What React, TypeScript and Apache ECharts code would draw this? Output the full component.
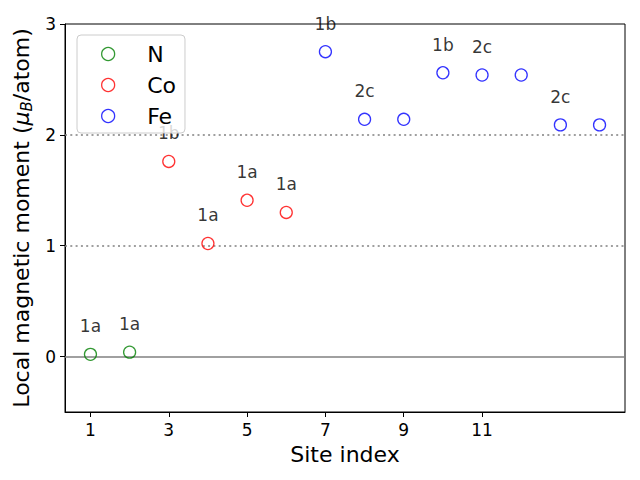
import React, { useEffect, useRef } from "react";
import * as echarts from "echarts";

const nSites = [1, 2];
const nMoments = [0.02, 0.04];
const nLabels = ["1a", "1a"];
const coSites = [3, 4, 5, 6];
const coMoments = [1.76, 1.02, 1.41, 1.3];
const coLabels = ["1b", "1a", "1a", "1a"];
const feSites = [7, 8, 9, 10, 11, 12, 13, 14];
const feMoments = [2.75, 2.14, 2.14, 2.56, 2.54, 2.54, 2.09, 2.09];
const feLabels = ["1b", "2c", "", "1b", "2c", "", "2c", ""];
const xTicks = [1, 3, 5, 7, 9, 11];
const yTicks = [0, 1, 2, 3];
const refLines = [0, 1, 2];

const FONT = "DejaVu Sans";

function makeSeries(name: string, color: string, xs: number[], ys: number[], labels: string[], extra: any = {}) {
  return {
    name,
    type: "scatter",
    symbol: "circle",
    symbolSize: 12,
    z: 5,
    itemStyle: { color: "rgba(255,255,255,0)", borderColor: color, borderWidth: 1.3 },
    label: {
      show: true,
      position: "top",
      distance: 13,
      fontFamily: FONT,
      fontSize: 17,
      color: "#000",
      formatter: (p: any) => labels[p.dataIndex],
    },
    emphasis: { disabled: true },
    data: xs.map((x, i) => [x, ys[i]]),
    ...extra,
  };
}

export default function App() {
  const ref = useRef<HTMLDivElement>(null);
  useEffect(() => {
    if (!ref.current) return;
    const chart = echarts.init(ref.current, null, { renderer: "svg" });
    chart.setOption({
      animation: false,
      grid: {
        left: 65,
        right: 15,
        top: 24,
        bottom: 68,
        show: true,
        borderColor: "#000",
        borderWidth: 1,
        backgroundColor: "transparent",
      },
      legend: {
        left: 77,
        top: 35,
        orient: "vertical",
        backgroundColor: "rgba(255,255,255,0.8)",
        borderColor: "#cccccc",
        borderWidth: 1,
        borderRadius: 4,
        padding: [8, 9, 6, 24],
        itemGap: 9,
        itemWidth: 22,
        itemHeight: 13,
        z: 20,
        textStyle: { fontFamily: FONT, fontSize: 22, color: "#000", padding: [0, 0, 0, 23] },
        data: [
          { name: "N", icon: "circle", itemStyle: { color: "rgba(255,255,255,0)", borderColor: "green", borderWidth: 1.3 } },
          { name: "Co", icon: "circle", itemStyle: { color: "rgba(255,255,255,0)", borderColor: "red", borderWidth: 1.3 } },
          { name: "Fe", icon: "circle", itemStyle: { color: "rgba(255,255,255,0)", borderColor: "blue", borderWidth: 1.3 } },
        ],
      },
      xAxis: {
        type: "value",
        min: 0.35,
        max: 14.65,
        name: "Site index",
        nameLocation: "middle",
        nameGap: 31,
        nameTextStyle: { fontFamily: FONT, fontSize: 22, color: "#000" },
        axisLine: { show: true, onZero: false, lineStyle: { color: "#000", width: 1 } },
        axisTick: { show: true, length: 5, customValues: xTicks, lineStyle: { color: "#000" } },
        axisLabel: { customValues: xTicks, margin: 9, fontFamily: FONT, fontSize: 17, color: "#000" },
        splitLine: { show: false },
      },
      yAxis: {
        type: "value",
        min: -0.5,
        max: 3,
        name: "Local magnetic moment ({mu|μ}{sub|B}/atom)",
        nameLocation: "middle",
        nameGap: 24,
        nameTextStyle: {
          fontFamily: FONT,
          fontSize: 22,
          color: "#000",
          rich: {
            mu: { fontFamily: FONT, fontSize: 22, fontStyle: "italic", color: "#000" },
            sub: { fontFamily: FONT, fontSize: 15, fontStyle: "italic", color: "#000", padding: [10, 0, 0, 0] },
          },
        },
        axisLine: { show: true, onZero: false, lineStyle: { color: "#000", width: 1 } },
        axisTick: { show: true, length: 5, customValues: yTicks, lineStyle: { color: "#000" } },
        axisLabel: { customValues: yTicks, margin: 9, fontFamily: FONT, fontSize: 17, color: "#000" },
        splitLine: { show: false },
      },
      series: [
        makeSeries("N", "green", nSites, nMoments, nLabels, {
          markLine: {
            silent: true,
            symbol: "none",
            label: { show: false },
            z: 1,
            data: refLines.map((v) => ({
              yAxis: v,
              lineStyle: { color: "#808080", width: 1.5, type: v === 0 ? "solid" : [2, 3.3] },
            })),
          },
        }),
        makeSeries("Co", "red", coSites, coMoments, coLabels),
        makeSeries("Fe", "blue", feSites, feMoments, feLabels),
      ],
    });
    return () => chart.dispose();
  }, []);
  return <div ref={ref} style={{ width: 640, height: 480, position: "absolute", left: 0, top: 0 }} />;
}
